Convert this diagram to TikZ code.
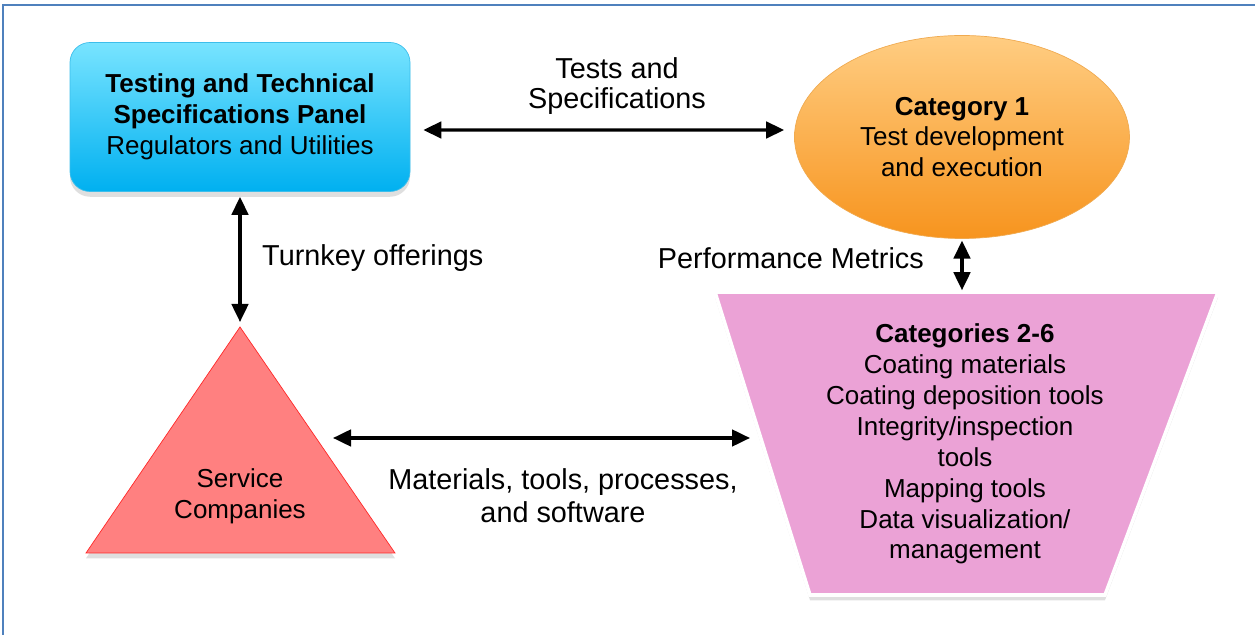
\documentclass[tikz,border=0pt]{standalone}
\usepackage{fontspec}
\setmainfont{Liberation Sans}
\usetikzlibrary{arrows.meta, shadows, shapes.geometric}

\definecolor{frameblue}{RGB}{79,129,189}
\definecolor{paneltop}{RGB}{120,228,255}
\definecolor{panelbot}{RGB}{0,176,240}
\definecolor{panelline}{RGB}{60,190,235}
\definecolor{cattop}{RGB}{255,205,130}
\definecolor{catbot}{RGB}{247,148,30}
\definecolor{catline}{RGB}{240,170,80}
\definecolor{catspink}{RGB}{235,162,214}
\definecolor{svcred}{RGB}{255,128,128}
\definecolor{svcline}{RGB}{255,40,40}

\tikzset{
  txt/.style = {align = center, font = \fontsize{14.8}{17.6}\selectfont},
  lbl/.style = {align = center, font = \fontsize{16.4}{19}\selectfont},
  dbl/.style = {line width = 1.8pt, {Triangle[length = 3.6mm, width = 3.3mm]}-{Triangle[length = 3.6mm, width = 3.3mm]}},
  softshadow/.style = {drop shadow = {shadow xshift = 0pt, shadow yshift = -3pt, opacity = 0.25}}
}

\begin{document}
\begin{tikzpicture} [scale = 1]
\useasboundingbox (0.0, 0.0) rectangle (25.1, 12.7);
\draw[frameblue, line width = 1.2pt] (0.06, 0.0) -- (0.06, 12.6) -- (25.1, 12.6);

\node[txt, draw = panelline, top color = paneltop, bottom color = panelbot, rounded corners = 0.4cm, minimum width = 6.8cm, minimum height = 2.98cm, softshadow] (panel) at (4.8, 10.36){\textbf{Testing and Technical}\\\textbf{Specifications Panel}\\Regulators and Utilities};
\node[txt, draw = catline, top color = cattop, bottom color = catbot, ellipse, minimum width = 6.7cm, minimum height = 4.06cm, inner sep = 0pt] (cat1) at (19.24, 9.96){\textbf{Category 1}\\Test development\\and execution};

% trapezoid and triangle
\draw[white, line width = 2pt, fill = catspink, softshadow] (14.3, 6.86) -- (24.36, 6.86) -- (22.1, 0.8) -- (16.2, 0.8) -- cycle;
\coordinate (catsTop) at (19.24, 6.86);
\coordinate (catsPort) at (15.0, 3.94);
\node[txt] (cats) at (19.3, 3.82){\textbf{Categories 2-6}\\Coating materials\\Coating deposition tools\\Integrity/inspection\\tools\\Mapping tools\\Data visualization/\\management};

\draw[svcline, fill = svcred, softshadow] (4.8, 6.16) -- (7.9, 1.64) -- (1.72, 1.64) -- cycle;
\coordinate (svcTop) at (4.8, 6.16);
\coordinate (svcPort) at (6.66, 3.94);
\node[txt] (svc) at (4.8, 2.78){Service\\Companies};

% connectors
\draw[dbl] ([shift = {(0.26, -0.26)}]panel.east) -- ([shift = {(-0.2, 0.14)}]cat1.west);
\draw[dbl, shorten < = 0.1cm, shorten > = 0.1cm] (panel.south) -- (svcTop);
\draw[dbl, shorten < = 1pt, shorten > = 1pt] (cat1.south) -- (catsTop);
\draw[dbl] (svcPort) -- (catsPort);

\node[lbl, font = \fontsize{16.4}{16.8}\selectfont] (tests) at (12.34, 10.98){Tests and\\Specifications};
\node[lbl, anchor = west] (turnkey) at (5.12, 7.54){Turnkey offerings};
\node[lbl, anchor = east] (perf) at (18.6, 7.54){Performance Metrics};
\node[lbl] (mats) at (11.26, 2.78){Materials, tools, processes,\\and software};
\end{tikzpicture}
\end{document}
